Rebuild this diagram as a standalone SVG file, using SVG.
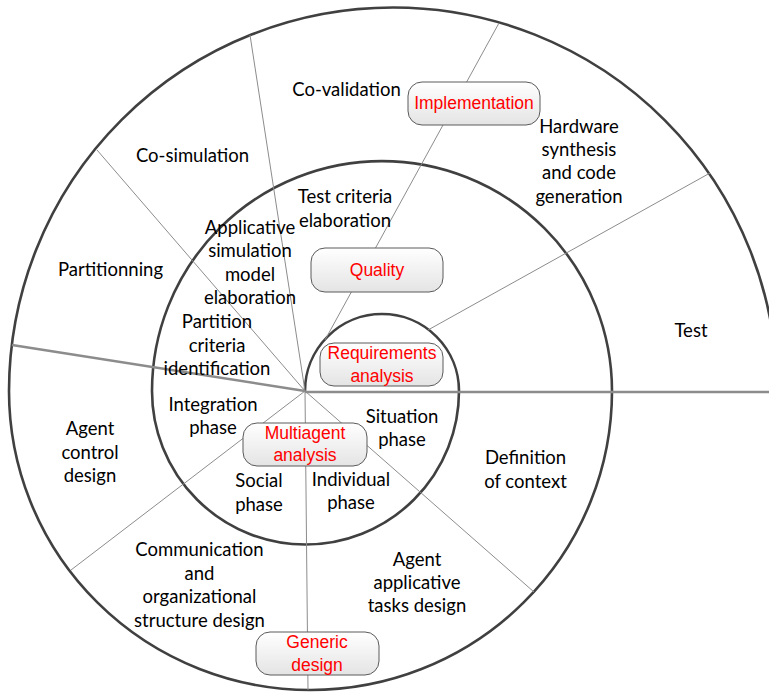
<svg xmlns="http://www.w3.org/2000/svg" width="769" height="693" viewBox="0 0 769 693">
<defs>
<linearGradient id="bg" x1="0" y1="0" x2="0" y2="1">
<stop offset="0" stop-color="#ffffff"/>
<stop offset="1" stop-color="#e4e4e4"/>
</linearGradient>
<style>
.spiral{fill:none;stroke:#404040;stroke-width:2.6}
.thin{stroke:#8c8c8c;stroke-width:1;fill:none}
.thick{stroke:#8c8c8c;stroke-width:2.6;fill:none}
.box{fill:url(#bg);stroke:#5a5a5a;stroke-width:1}
.lbl{font-family:"Lato","Open Sans","Noto Sans",sans-serif;font-size:18.5px;fill:#000;text-anchor:middle}
.red{font-family:"Liberation Sans",Arial,sans-serif;font-size:17.5px;fill:#ff0000;text-anchor:middle}
</style>
</defs>
<rect width="769" height="693" fill="#ffffff"/>
<g id="connectors">
<path class="spiral" d="M305,391 A77,77 0 0 1 459,391 A153.5,153.5 0 0 1 152,391 A230,230 0 0 1 612,391 A301.5,299 0 0 1 9,391 A384,384 0 0 1 777,392"/>
<line class="thick" x1="12" y1="345" x2="305" y2="391"/>
<line class="thick" x1="305" y1="392" x2="769" y2="392"/>
<line class="thin" x1="250" y1="35" x2="305" y2="391"/>
<line class="thin" x1="97" y1="150" x2="305" y2="391"/>
<line class="thin" x1="499" y1="23" x2="325" y2="340"/>
<line class="thin" x1="710" y1="173" x2="428" y2="330"/>
<line class="thin" x1="305" y1="391" x2="71" y2="570"/>
<line class="thin" x1="305" y1="391" x2="308" y2="690"/>
<line class="thin" x1="305" y1="391" x2="534" y2="592"/>
</g>
<g id="implementation">
<rect class="box" x="408" y="82" width="132" height="43" rx="14"/>
<text class="red" x="474" y="109">Implementation</text>
</g>
<g id="quality">
<rect class="box" x="311" y="248" width="132" height="44" rx="14"/>
<text class="red" x="377" y="276">Quality</text>
</g>
<g id="requirements">
<rect class="box" x="320" y="343" width="123" height="43" rx="14"/>
<text class="red" x="382" y="359">Requirements</text>
<text class="red" x="382" y="381.5">analysis</text>
</g>
<g id="multiagent">
<rect class="box" x="243" y="423" width="124" height="43" rx="14"/>
<text class="red" x="305" y="439">Multiagent</text>
<text class="red" x="305" y="461">analysis</text>
</g>
<g id="generic">
<rect class="box" x="256" y="632" width="123" height="43" rx="14"/>
<text class="red" x="317" y="648">Generic</text>
<text class="red" x="317" y="671">design</text>
</g>
<g id="labels">
<text class="lbl" x="346.5" y="96">Co-validation</text>
<text class="lbl" x="192.5" y="162">Co-simulation</text>
<text class="lbl" x="110.5" y="276">Partitionning</text>
<text class="lbl" x="345" y="203">Test criteria</text>
<text class="lbl" x="345" y="227">elaboration</text>
<text class="lbl" x="250" y="234">Applicative</text>
<text class="lbl" x="250" y="257">simulation</text>
<text class="lbl" x="250" y="281">model</text>
<text class="lbl" x="250" y="304">elaboration</text>
<text class="lbl" x="217" y="328">Partition</text>
<text class="lbl" x="217" y="352">criteria</text>
<text class="lbl" x="217" y="375">identification</text>
<text class="lbl" x="213" y="411">Integration</text>
<text class="lbl" x="213" y="434">phase</text>
<text class="lbl" x="90" y="435">Agent</text>
<text class="lbl" x="90" y="459">control</text>
<text class="lbl" x="90" y="482">design</text>
<text class="lbl" x="259" y="487">Social</text>
<text class="lbl" x="259" y="511">phase</text>
<text class="lbl" x="351" y="486">Individual</text>
<text class="lbl" x="351" y="509">phase</text>
<text class="lbl" x="199.5" y="556">Communication</text>
<text class="lbl" x="199.5" y="580">and</text>
<text class="lbl" x="199.5" y="603">organizational</text>
<text class="lbl" x="199.5" y="627">structure design</text>
<text class="lbl" x="402" y="423">Situation</text>
<text class="lbl" x="402" y="446">phase</text>
<text class="lbl" x="525.5" y="464">Definition</text>
<text class="lbl" x="525.5" y="488">of context</text>
<text class="lbl" x="417" y="566">Agent</text>
<text class="lbl" x="417" y="589">applicative</text>
<text class="lbl" x="417" y="612">tasks design</text>
<text class="lbl" x="579" y="133">Hardware</text>
<text class="lbl" x="579" y="156">synthesis</text>
<text class="lbl" x="579" y="179">and code</text>
<text class="lbl" x="579" y="203">generation</text>
<text class="lbl" x="691" y="337">Test</text>
</g>
</svg>
